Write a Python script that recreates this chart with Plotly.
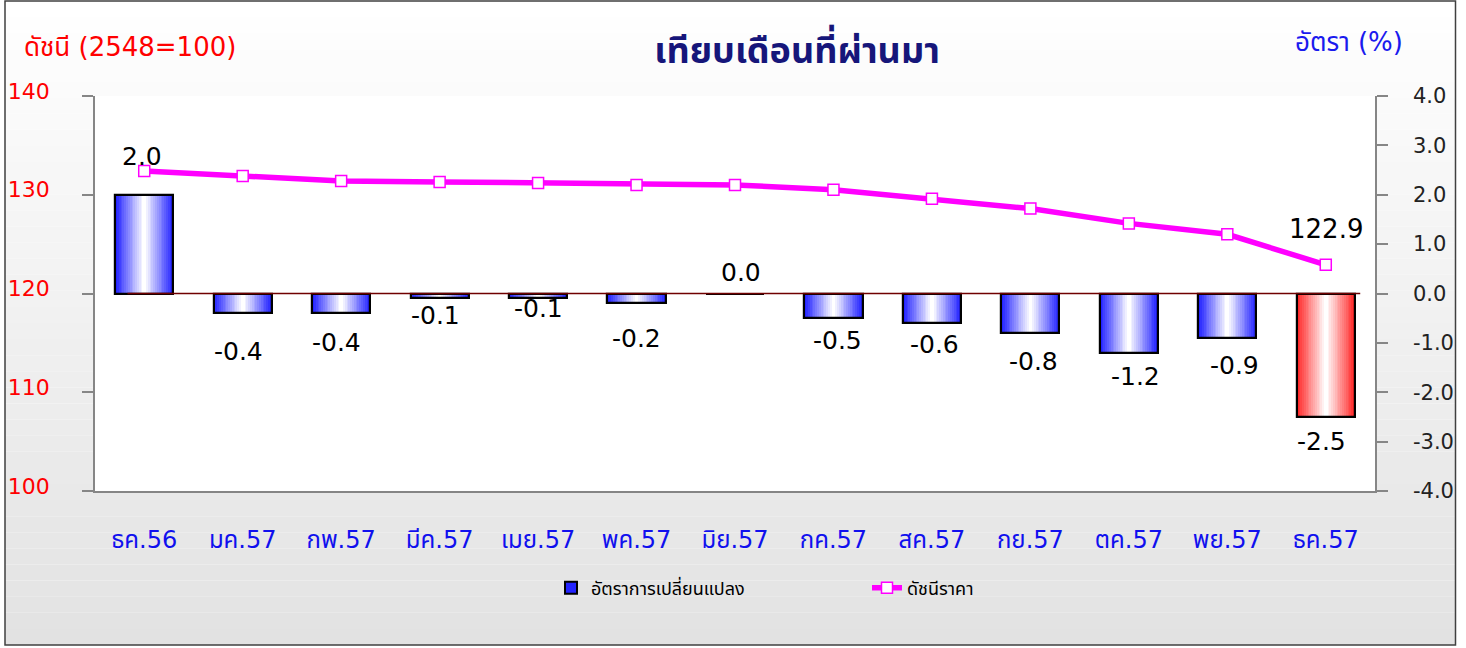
import plotly.graph_objects as go

# ---------------- data ----------------
categories = ["ธค.56", "มค.57", "กพ.57", "มีค.57", "เมย.57", "พค.57", "มิย.57",
              "กค.57", "สค.57", "กย.57", "ตค.57", "พย.57", "ธค.57"]
change_rate = [2.0, -0.4, -0.4, -0.1, -0.1, -0.2, 0.0, -0.5, -0.6, -0.8, -1.2, -0.9, -2.5]
price_index = [132.4, 131.9, 131.4, 131.3, 131.2, 131.0, 131.0, 130.5, 129.6, 128.6, 127.1, 126.0, 122.9]

rate_ticks = [4, 3, 2, 1, 0, -1, -2, -3, -4]
rate_tick_labels = ["4.0", "3.0", "2.0", "1.0", "0.0", "-1.0", "-2.0", "-3.0", "-4.0"]
index_ticks = [100, 110, 120, 130, 140]
index_tick_labels = ["100", "110", "120", "130", "140"]

# ---------------- styling helpers ----------------
FONT = "Tahoma, 'DejaVu Sans', 'Noto Sans Thai', 'Noto Sans', sans-serif"
W, H = 1466, 648
ML, MR, MT, MB = 95, 91, 96, 157
PW, PH = W - ML - MR, H - MT - MB

def px_x(px):
    return (px - ML) / PW

def px_y(py):
    return (H - MB - py) / PH

def mix(c1, c2, t):
    return "rgb(%d,%d,%d)" % tuple(round(a + (b - a) * t) for a, b in zip(c1, c2))

BLUE = (35, 35, 255)
RED = (255, 40, 40)
WHITE = (255, 255, 255)
bar_width = 0.59
n_layers = 16
edge_colors = [RED if i == len(categories) - 1 else BLUE for i in range(len(categories))]

# label offsets in pixels (position styling only)
label_dy = [38, -38, -29, -17, -10, -35, 21, -22, -21, -28, -24, -28, -25]
label_dx = [-2, -4, -5, -4, 0, 0, 6, 4, 3, 3, 7, 7, -4]

fig = go.Figure()

# gradient bars built from nested overlay bars
for k in range(n_layers):
    t = k / (n_layers - 1)
    fig.add_trace(go.Bar(
        x=categories, y=change_rate,
        width=bar_width * (1 - k / n_layers),
        marker=dict(color=[mix(c, WHITE, t) for c in edge_colors],
                    line=dict(width=2 if k == 0 else 0, color="black")),
        name="อัตราการเปลี่ยนแปลง",
        showlegend=(k == 0),
        hoverinfo="skip" if k else None,
        yaxis="y",
    ))

# outline on top
fig.add_trace(go.Bar(
    x=categories, y=change_rate, width=bar_width,
    marker=dict(color="rgba(0,0,0,0)",
                line=dict(width=[0 if v == 0 else 2.2 for v in change_rate], color="black")),
    showlegend=False, hoverinfo="skip", yaxis="y",
))

# price index line
fig.add_trace(go.Scatter(
    x=categories, y=price_index, yaxis="y2",
    mode="lines+markers", name="ดัชนีราคา",
    line=dict(color="#ff00ff", width=5.5),
    marker=dict(symbol="square", size=11, color="white",
                line=dict(color="#ff00ff", width=1.5)),
))

annotations = []
for i, (c, v) in enumerate(zip(categories, change_rate)):
    annotations.append(dict(
        x=c, y=v, xref="x", yref="y", text="%.1f" % v, showarrow=False,
        xanchor="center", yanchor="middle", xshift=label_dx[i], yshift=label_dy[i],
        font=dict(family=FONT, size=25, color="black"),
    ))
annotations.append(dict(
    x=categories[-1], y=price_index[-1], xref="x", yref="y2", text="%.1f" % price_index[-1],
    showarrow=False, xanchor="center", yanchor="middle", yshift=36,
    font=dict(family=FONT, size=26, color="black"),
))
annotations.append(dict(
    x=px_x(22), y=px_y(47), xref="paper", yref="paper", text="ดัชนี (2548=100)",
    showarrow=False, xanchor="left", yanchor="middle",
    font=dict(family=FONT, size=26, color="#ff0000"),
))
annotations.append(dict(
    x=px_x(1405), y=px_y(42), xref="paper", yref="paper", text="อัตรา (%)",
    showarrow=False, xanchor="right", yanchor="middle",
    font=dict(family=FONT, size=26, color="#1a1aee"),
))

# background gradient bands
shapes = []
top, bottom, n_bands = 1, 645, 40
for b in range(n_bands):
    y0 = top + (bottom - top) * b / n_bands
    y1 = top + (bottom - top) * (b + 1) / n_bands
    g = round(255 - 29 * (b + 0.5) / n_bands)
    shapes.append(dict(type="rect", xref="paper", yref="paper",
                       x0=px_x(5), x1=px_x(1455), y0=px_y(y1), y1=px_y(y0),
                       fillcolor="rgb(%d,%d,%d)" % (g, g, g), line=dict(width=0), layer="below"))
shapes.append(dict(type="rect", xref="paper", yref="paper", x0=0, x1=1, y0=0, y1=1,
                   fillcolor="white", line=dict(width=0), layer="below"))
shapes.append(dict(type="rect", xref="paper", yref="paper",
                   x0=px_x(5), x1=px_x(1455.5), y0=px_y(645), y1=px_y(1),
                   fillcolor="rgba(0,0,0,0)", line=dict(width=1.5, color="#404040"), layer="above"))
# zero reference line
shapes.append(dict(type="line", xref="x", yref="y", x0=-0.17, x1=12.35, y0=0, y1=0,
                   line=dict(color="#700000", width=1.5), layer="above"))

fig.update_layout(
    width=W, height=H, autosize=False,
    margin=dict(l=ML, r=MR, t=MT, b=MB, pad=0, autoexpand=False),
    paper_bgcolor="white", plot_bgcolor="white",
    barmode="overlay", bargap=0,
    font=dict(family=FONT),
    title=dict(text="<b>เทียบเดือนที่ผ่านมา</b>", x=797 / W, y=1 - 50 / H,
               xref="container", yref="container", xanchor="center", yanchor="middle",
               font=dict(family=FONT, size=36, color="#16167a")),
    xaxis=dict(range=[-0.5, 12.5], showline=True, linecolor="#868686", linewidth=1.5,
               ticks="", showgrid=False, ticklabelstandoff=26, automargin=False,
               tickfont=dict(family=FONT, size=24, color="#1010ee")),
    yaxis=dict(side="right", range=[-4, 4], tickvals=rate_ticks, ticktext=rate_tick_labels,
               showline=True, linecolor="#868686", linewidth=1.5, ticks="outside", ticklen=11,
               tickcolor="#868686", tickwidth=1.5, showgrid=False, zeroline=False,
               automargin=False,
               ticklabelstandoff=21, tickfont=dict(family=FONT, size=21, color="#222222")),
    yaxis2=dict(side="left", overlaying="y", range=[100, 140], tickvals=index_ticks,
                ticktext=index_tick_labels, showline=True, linecolor="#868686", linewidth=1.5,
                ticks="outside", ticklen=11, tickcolor="#868686", tickwidth=1.5,
                showgrid=False, zeroline=False, ticklabelstandoff=28, ticklabelshift=-5,
                automargin=False,
                tickfont=dict(family=FONT, size=22, color="#ff0000")),
    legend=dict(orientation="h", x=px_x(551), y=px_y(588), xanchor="left", yanchor="middle",
                bgcolor="rgba(0,0,0,0)", entrywidth=271, entrywidthmode="pixels",
                font=dict(family=FONT, size=18, color="black")),
    annotations=annotations,
    shapes=shapes,
)

fig.write_html("out.html", config={"displayModeBar": False},
               post_script="document.body.style.margin='0px';")
